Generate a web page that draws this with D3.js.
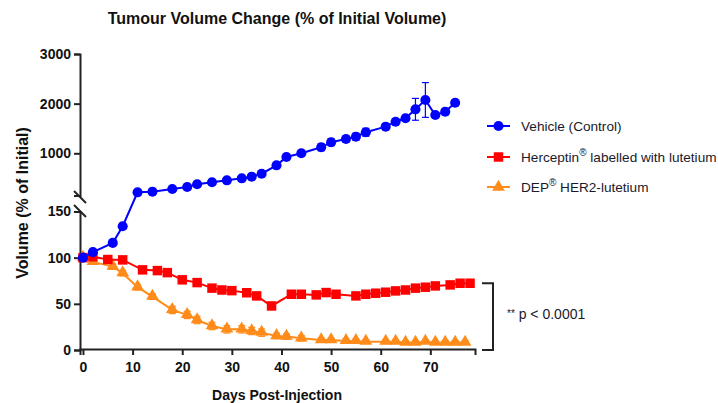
<!DOCTYPE html>
<html>
<head>
<meta charset="utf-8">
<script src="https://cdn.jsdelivr.net/npm/d3@7/dist/d3.min.js"></script>
<style>
  body { margin: 0; background: #fff; }
  text { font-family: "Liberation Sans", Arial, sans-serif; }
  .axis path, .axis line { stroke: #222; stroke-width: 2; }
  .axis text { font-size: 14px; font-weight: bold; fill: #111; }
</style>
</head>
<body>
<script>
// data (% of initial volume)
var vehicleDays = [0, 2, 6, 8, 11, 14, 18, 21, 23, 26, 29, 32, 34, 36, 39, 41, 44, 48, 50, 53, 55, 57, 61, 63, 65, 67, 69, 71, 73, 75];
var vehicleVals = [100, 106, 116, 134, 214, 227, 281, 321, 376, 416, 456, 496, 529, 589, 758, 925, 1000, 1121, 1222, 1288, 1334, 1423, 1536, 1636, 1705, 1886, 2074, 1772, 1838, 2019];
var vehicleErr  = [0, 1, 2, 3, 20, 20, 25, 25, 25, 25, 30, 30, 35, 50, 50, 60, 60, 70, 70, 60, 70, 80, 60, 60, 60, 220, 350, 40, 40, 40];

var hercDays = [0, 2, 5, 8, 12, 15, 17, 20, 23, 26, 28, 30, 33, 35, 38, 42, 44, 47, 49, 51, 55, 57, 59, 61, 63, 65, 67, 69, 71, 74, 76, 78];
var hercVals = [100, 101, 98, 97.6, 86.8, 86, 83.8, 76, 73, 67, 65, 64.3, 62, 58.6, 47.7, 60.4, 60.4, 59.7, 62.2, 60.4, 58.6, 60.4, 61.5, 62.6, 64, 65, 67, 68, 69.4, 70.5, 72.3, 72.3];
var hercErr  = [0, 1, 2, 2, 2, 2, 2, 2, 2, 2, 2, 2, 2, 2, 3, 2, 2, 2, 2, 2, 2, 2, 2, 2, 2, 2, 2, 2, 2, 2, 2, 2];

var depDays = [0, 2, 6, 8, 11, 14, 18, 21, 23, 26, 29, 32, 34, 36, 39, 41, 44, 48, 50, 53, 55, 57, 61, 63, 65, 67, 69, 71, 73, 75, 77];
var depVals = [100, 95.4, 90.3, 83.2, 68, 57.8, 43.4, 38, 32.5, 26, 22.4, 22.4, 20.6, 18.8, 15.2, 14.5, 12.7, 10.8, 10.8, 9.8, 9.8, 9, 9, 9, 8, 8, 9, 8, 8, 8, 8];
var depErr  = [0, 2, 3, 3, 3, 3, 4, 4, 4, 4, 4, 4, 4, 4, 3, 3, 3, 2, 2, 2, 2, 2, 2, 2, 2, 2, 2, 2, 2, 2, 2];

var xTicks = [0, 10, 20, 30, 40, 50, 60, 70];
var yLowTicks = [0, 50, 100, 150];
var yHighTicks = [1000, 2000, 3000];

var seriesNames = ["Vehicle (Control)", "Herceptin", "DEP"];

var width = 718, height = 403;
var svg = d3.select("body").append("svg")
    .attr("width", width)
    .attr("height", height);

// scales (broken y axis: 0-150 below, 150-3000 above)
var x = d3.scaleLinear().domain([-0.6, 79]).range([80, 475]);
var yLow = d3.scaleLinear().domain([0, 150]).range([350, 211.5]);
var yHigh = d3.scaleLinear().domain([150, 3000]).range([195.5, 54]);
function y(v) { return v <= 150 ? yLow(v) : yHigh(v); }

// axes
svg.append("g")
   .attr("class", "axis")
   .attr("transform", "translate(0,349)")
   .call(d3.axisBottom(x).tickValues(xTicks).tickFormat(d3.format("d"))
           .tickSizeOuter(0).tickSize(6).tickPadding(5))
   .selectAll("text").attr("dy", "0.85em");

svg.append("g")
   .attr("class", "axis")
   .attr("transform", "translate(80,0)")
   .call(d3.axisLeft(yLow).tickValues(yLowTicks).tickFormat(d3.format("d"))
           .tickSizeOuter(0).tickSize(6).tickPadding(3));

svg.append("g")
   .attr("class", "axis")
   .attr("transform", "translate(80,0)")
   .call(d3.axisLeft(yHigh).tickValues(yHighTicks).tickFormat(d3.format("d"))
           .tickSizeOuter(0).tickSize(6).tickPadding(3));

// axis break slashes
[197, 211].forEach(function(by) {
    svg.append("line")
       .attr("x1", 74).attr("y1", by - 6)
       .attr("x2", 86).attr("y2", by + 6)
       .attr("stroke", "#222").attr("stroke-width", 2);
});

// titles
svg.append("text")
   .attr("x", 277).attr("y", 24)
   .attr("text-anchor", "middle")
   .style("font-size", "16px").style("font-weight", "bold").style("fill", "#111")
   .text("Tumour Volume Change (% of Initial Volume)");

svg.append("text")
   .attr("x", 277).attr("y", 400)
   .attr("text-anchor", "middle")
   .style("font-size", "14px").style("font-weight", "bold").style("fill", "#111")
   .text("Days Post-Injection");

svg.append("text")
   .attr("transform", "translate(28,203) rotate(-90)")
   .attr("text-anchor", "middle")
   .style("font-size", "16px").style("font-weight", "bold").style("fill", "#111")
   .text("Volume (% of Initial)");

// series
var series = [
    {days: vehicleDays, vals: vehicleVals, err: vehicleErr, color: "#0000ff", shape: "circle"},
    {days: hercDays, vals: hercVals, err: hercErr, color: "#ff0000", shape: "square"},
    {days: depDays, vals: depVals, err: depErr, color: "#ff8c1a", shape: "triangle"}
];

var symbolFor = {
    circle: d3.symbol().type(d3.symbolCircle).size(80),
    square: d3.symbol().type(d3.symbolSquare).size(90),
    triangle: d3.symbol().type(d3.symbolTriangle).size(70)
};

var line = d3.line()
    .x(function(d) { return x(d.day); })
    .y(function(d) { return y(d.val); });

// draw back to front: DEP, Herceptin, Vehicle
series.slice().reverse().forEach(function(s) {
    var pts = s.days.map(function(d, i) { return {day: d, val: s.vals[i], err: s.err[i]}; });
    var g = svg.append("g");

    g.append("path")
     .datum(pts)
     .attr("d", line)
     .attr("fill", "none")
     .attr("stroke", s.color)
     .attr("stroke-width", 2);

    var eb = g.selectAll(".err").data(pts.filter(function(d) { return d.err > 0; }))
      .enter().append("g");
    eb.append("line")
      .attr("x1", function(d) { return x(d.day); })
      .attr("x2", function(d) { return x(d.day); })
      .attr("y1", function(d) { return y(d.val - d.err); })
      .attr("y2", function(d) { return y(d.val + d.err); })
      .attr("stroke", s.color).attr("stroke-width", 1.2);
    ["-", "+"].forEach(function(sign) {
        eb.append("line")
          .attr("x1", function(d) { return x(d.day) - 3.5; })
          .attr("x2", function(d) { return x(d.day) + 3.5; })
          .attr("y1", function(d) { return y(sign === "-" ? d.val - d.err : d.val + d.err); })
          .attr("y2", function(d) { return y(sign === "-" ? d.val - d.err : d.val + d.err); })
          .attr("stroke", s.color).attr("stroke-width", 1.2);
    });

    g.selectAll(".pt").data(pts).enter().append("path")
     .attr("d", symbolFor[s.shape])
     .attr("transform", function(d) {
         var dy = s.shape === "triangle" ? -0.5 : 0;
         return "translate(" + x(d.day) + "," + (y(d.val) + dy) + ")";
     })
     .attr("fill", s.color);
});

// legend
var legendY = [126, 157, 187];
series.forEach(function(s, i) {
    var ly = legendY[i];
    svg.append("line")
       .attr("x1", 487).attr("x2", 510)
       .attr("y1", ly).attr("y2", ly)
       .attr("stroke", s.color).attr("stroke-width", 2);
    svg.append("path")
       .attr("d", symbolFor[s.shape])
       .attr("transform", "translate(498.5," + ly + ")")
       .attr("fill", s.color);
    var t = svg.append("text")
       .attr("x", 521).attr("y", ly + 5)
       .style("font-size", "13.6px").style("fill", "#1a1a2a");
    if (i === 0) {
        t.text(seriesNames[0]);
    } else if (i === 1) {
        t.append("tspan").text(seriesNames[1]);
        t.append("tspan").attr("dy", -6).style("font-size", "10px").text("®");
        t.append("tspan").attr("dy", 6).text(" labelled with lutetium");
    } else {
        t.append("tspan").text(seriesNames[2]);
        t.append("tspan").attr("dy", -6).style("font-size", "10px").text("®");
        t.append("tspan").attr("dy", 6).text(" HER2-lutetium");
    }
});

// significance bracket
svg.append("path")
   .attr("d", "M482," + y(hercVals[hercVals.length - 1]) + " H493 V" + y(0) + " H482")
   .attr("fill", "none").attr("stroke", "#222").attr("stroke-width", 2);

var sig = svg.append("text")
   .attr("x", 507).attr("y", 319)
   .style("font-size", "14px").style("fill", "#1a1a2a");
sig.append("tspan").style("font-size", "10px").attr("dy", -2).text("**");
sig.append("tspan").attr("dy", 2).text(" p < 0.0001");
</script>
</body>
</html>
